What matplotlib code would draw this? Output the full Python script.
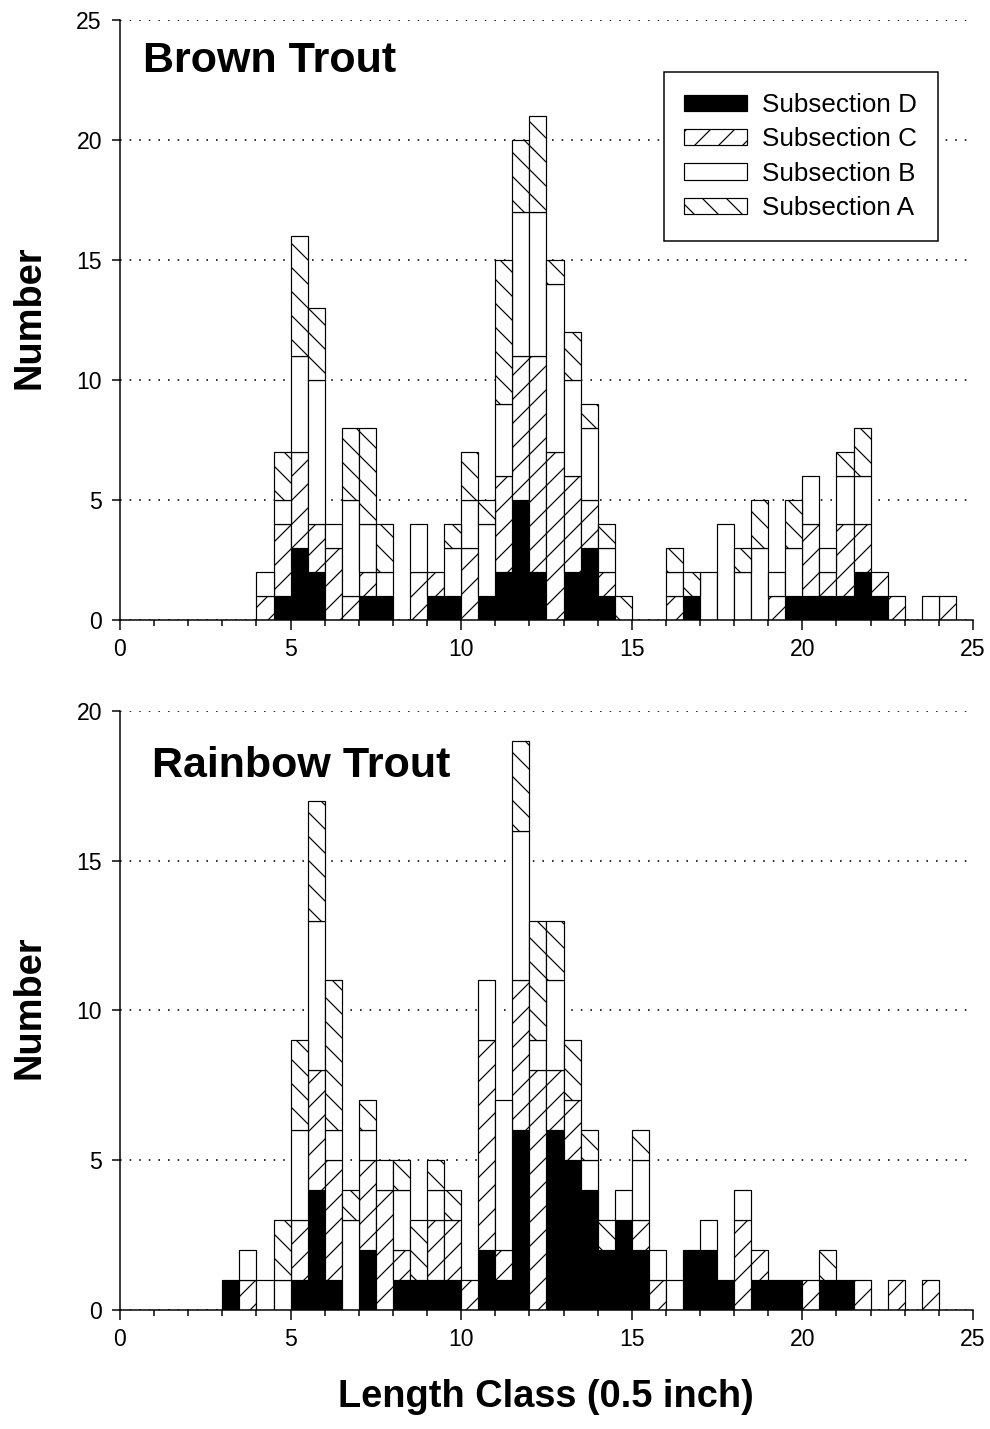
import numpy as np
import matplotlib
matplotlib.use('Agg')
import matplotlib.pyplot as plt
from matplotlib.ticker import MultipleLocator

plt.rcParams['font.family'] = ['Liberation Sans', 'DejaVu Sans']
plt.rcParams['hatch.linewidth'] = 0.6

# left edge of each 0.5 inch length class
length_class = np.arange(0, 25, 0.5)

subsections = ['Subsection D', 'Subsection C', 'Subsection B', 'Subsection A']
fills = ['black', 'white', 'white', 'white']
hatches = [None, '//', None, '\\\\']

# Brown trout counts per class (0.0 ... 24.5)
brown_d = [0, 0, 0, 0, 0, 0, 0, 0, 0, 1,
           3, 2, 0, 0, 1, 1, 0, 0, 1, 1,
           0, 1, 2, 5, 2, 0, 2, 3, 1, 0,
           0, 0, 0, 1, 0, 0, 0, 0, 0, 1,
           1, 1, 1, 2, 1, 0, 0, 0, 0, 0]
brown_c = [0, 0, 0, 0, 0, 0, 0, 0, 1, 3,
           4, 2, 3, 1, 1, 0, 0, 2, 1, 0,
           3, 0, 4, 6, 9, 7, 4, 2, 1, 0,
           0, 0, 1, 0, 0, 0, 0, 0, 1, 0,
           3, 1, 3, 2, 1, 1, 0, 0, 1, 0]
brown_b = [0, 0, 0, 0, 0, 0, 0, 0, 1, 1,
           4, 6, 1, 4, 2, 1, 0, 2, 0, 2,
           2, 3, 3, 6, 6, 7, 4, 3, 1, 0,
           0, 0, 1, 0, 2, 4, 2, 3, 1, 2,
           2, 1, 2, 2, 0, 0, 0, 1, 0, 0]
brown_a = [0, 0, 0, 0, 0, 0, 0, 0, 0, 2,
           5, 3, 0, 3, 4, 2, 0, 0, 0, 1,
           2, 1, 6, 3, 4, 1, 2, 1, 1, 1,
           0, 0, 1, 1, 0, 0, 1, 2, 0, 2,
           0, 0, 1, 2, 0, 0, 0, 0, 0, 0]

# Rainbow trout counts per class (0.0 ... 24.5)
rainbow_d = [0, 0, 0, 0, 0, 0, 1, 0, 0, 0,
             1, 4, 1, 0, 2, 0, 1, 1, 1, 1,
             0, 2, 1, 6, 0, 6, 5, 4, 2, 3,
             2, 0, 0, 2, 2, 1, 0, 1, 1, 1,
             0, 1, 1, 0, 0, 0, 0, 0, 0, 0]
rainbow_c = [0, 0, 0, 0, 0, 0, 0, 1, 0, 0,
             2, 4, 4, 0, 3, 4, 1, 0, 2, 2,
             1, 7, 1, 5, 8, 2, 2, 0, 0, 0,
             1, 1, 0, 0, 0, 0, 3, 1, 0, 0,
             1, 0, 0, 1, 0, 1, 0, 1, 0, 0]
rainbow_b = [0, 0, 0, 0, 0, 0, 0, 1, 1, 1,
             3, 5, 1, 3, 1, 1, 2, 0, 1, 0,
             0, 2, 5, 5, 1, 3, 0, 1, 0, 1,
             2, 1, 1, 0, 1, 0, 1, 0, 0, 0,
             0, 0, 0, 0, 0, 0, 0, 0, 0, 0]
rainbow_a = [0, 0, 0, 0, 0, 0, 0, 0, 0, 2,
             3, 4, 5, 1, 1, 0, 1, 2, 1, 1,
             0, 0, 0, 3, 4, 2, 2, 1, 1, 0,
             1, 0, 0, 0, 0, 0, 0, 0, 0, 0,
             0, 1, 0, 0, 0, 0, 0, 0, 0, 0]

brown = [brown_d, brown_c, brown_b, brown_a]
rainbow = [rainbow_d, rainbow_c, rainbow_b, rainbow_a]


def stacked_panel(ax, counts, ymax):
    bottom = np.zeros(len(length_class))
    for name, vals, fc, h in zip(subsections, counts, fills, hatches):
        vals = np.asarray(vals, dtype=float)
        keep = vals > 0
        ax.bar(length_class[keep], vals[keep], width=0.5, bottom=bottom[keep],
               align='edge', color=fc, hatch=h, edgecolor='black',
               linewidth=0.6, label=name)
        bottom += vals

    ax.set_xlim(0, 25)
    ax.set_ylim(0, ymax)
    ax.xaxis.set_major_locator(MultipleLocator(5))
    ax.xaxis.set_minor_locator(MultipleLocator(1))
    ax.yaxis.set_major_locator(MultipleLocator(5))
    ax.set_axisbelow(True)
    ax.yaxis.grid(True, color='black', linewidth=0.8, linestyle=(0, (1, 5)))
    for side in ['top', 'right']:
        ax.spines[side].set_visible(False)
    for side in ['left', 'bottom']:
        ax.spines[side].set_linewidth(0.75)
    ax.tick_params(axis='both', which='major', labelsize=11.5, width=0.75,
                   direction='out')
    ax.tick_params(axis='x', which='major', length=5, pad=4)
    ax.tick_params(axis='x', which='minor', length=3, width=0.75)
    ax.tick_params(axis='y', which='major', length=4, pad=5)


fig = plt.figure(figsize=(990 / 144, 1429 / 144), dpi=144)
ax1 = fig.add_axes([0.1212, 0.5661, 0.8616, 0.4199])
ax2 = fig.add_axes([0.1212, 0.0833, 0.8616, 0.4192])

stacked_panel(ax1, brown, 25)
stacked_panel(ax2, rainbow, 20)

ax1.text(0.027, 0.913, 'Brown Trout', transform=ax1.transAxes,
         fontsize=21.5, fontweight='bold', va='baseline')
ax2.text(0.0375, 0.89, 'Rainbow Trout', transform=ax2.transAxes,
         fontsize=21.5, fontweight='bold', va='baseline')

ax1.legend(loc='upper right', bbox_to_anchor=(0.959, 0.913), fontsize=13,
           frameon=True, fancybox=False, edgecolor='black', framealpha=1,
           borderaxespad=0, borderpad=0.8, labelspacing=0.4,
           handlelength=2.4, handleheight=0.6, handletextpad=0.6)
ax1.get_legend().get_frame().set_linewidth(0.75)

fig.text(30 / 990, 0.778, 'Number', rotation=90, fontsize=19,
         fontweight='bold', ha='center', va='center')
fig.text(30 / 990, 0.2952, 'Number', rotation=90, fontsize=19,
         fontweight='bold', ha='center', va='center')
fig.text(546 / 990, 1 - 1397 / 1429, 'Length Class (0.5 inch)', fontsize=19,
         fontweight='bold', ha='center', va='center')

fig.savefig('out.png', dpi=144)
plt.close(fig)
